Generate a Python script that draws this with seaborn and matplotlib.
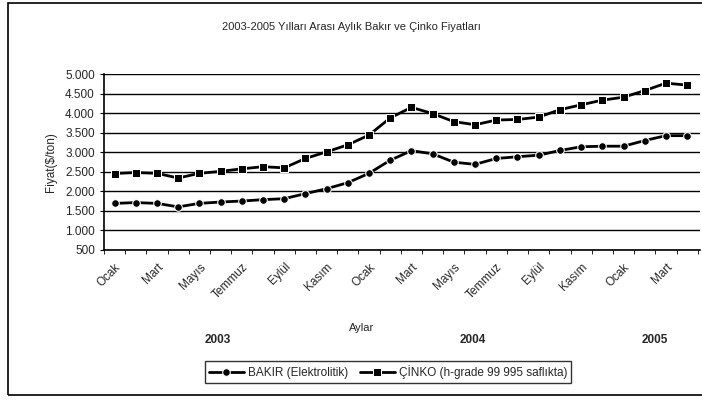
import numpy as np
import pandas as pd
import matplotlib
matplotlib.use("Agg")
import matplotlib.pyplot as plt
import seaborn as sns
from matplotlib.patches import Rectangle
from matplotlib.ticker import FuncFormatter
from matplotlib.transforms import ScaledTranslation

# Data (Jan 2003 - Apr 2005, monthly)
months = ["Ocak", "Şubat", "Mart", "Nisan", "Mayıs", "Haziran", "Temmuz",
          "Ağustos", "Eylül", "Ekim", "Kasım", "Aralık"]
month_labels = (months * 3)[:28]
bakir = [1690, 1710, 1690, 1600, 1690, 1725, 1750, 1785, 1810, 1940, 2065, 2220,
         2460, 2795, 3040, 2960, 2745, 2690, 2840, 2885, 2925, 3045, 3140, 3155,
         3155, 3300, 3425, 3425]
cinko = [2455, 2480, 2460, 2340, 2460, 2510, 2575, 2630, 2600, 2840, 3010, 3190,
         3440, 3880, 4150, 3990, 3785, 3705, 3825, 3840, 3900, 4090, 4215, 4335,
         4410, 4580, 4770, 4720]
years = ["2003", "2004", "2005"]

df = pd.DataFrame({"idx": np.arange(28), "bakir": bakir, "cinko": cinko})

sns.set_style("white")
plt.rcParams["font.family"] = ["Liberation Sans", "DejaVu Sans"]

fig = plt.figure(figsize=(7.02, 4.01), dpi=100)
ax = fig.add_axes([0.148, 0.377, 0.849, 0.438])

sns.lineplot(data=df, x="idx", y="bakir", ax=ax, color="black", marker="o",
             markersize=5.5, linewidth=2.0, label="BAKIR (Elektrolitik)")
sns.lineplot(data=df, x="idx", y="cinko", ax=ax, color="black", marker="s",
             markersize=5.5, linewidth=2.0, label="ÇİNKO (h-grade 99 995 saflıkta)")

ax.set_ylim(500, 5000)
ax.set_xlim(-0.45, 27.6)
ax.set_yticks(np.arange(500, 5001, 500))
ax.yaxis.set_major_formatter(FuncFormatter(lambda v, p: f"{int(v):,}".replace(",", ".")))
ax.yaxis.grid(True, color="black", linewidth=1.0)
ax.set_xticks(np.arange(0, 28, 2))
ax.set_xticklabels(month_labels[0:28:2], rotation=45, ha="right", fontsize=8.5,
                   rotation_mode="anchor")
# nudge rotated labels a bit right like the original
for lbl in ax.get_xticklabels():
    lbl.set_transform(lbl.get_transform() + ScaledTranslation(0.07, 0, fig.dpi_scale_trans))
ax.set_xticks(np.arange(-0.5, 28, 1), minor=True)
ax.tick_params(axis="x", which="major", length=0, pad=8)
ax.tick_params(axis="x", which="minor", length=3, direction="out", color="black")
ax.tick_params(axis="y", labelsize=8.5, length=3, direction="out", color="black")
ax.tick_params(bottom=True, left=True, which="both")
for s in ["top", "right"]:
    ax.spines[s].set_visible(False)
for s in ["left", "bottom"]:
    ax.spines[s].set_color("black")
    ax.spines[s].set_linewidth(1.2)

ax.set_xlabel("")
ax.set_ylabel("Fiyat($/ton)", fontsize=8.5, labelpad=6)

fig.text(0.5, 0.933, "2003-2005 Yılları Arası Aylık Bakır ve Çinko Fiyatları",
         ha="center", va="center", fontsize=8)
fig.text(362 / 702, 1 - 328 / 401, "Aylar", ha="center", va="center", fontsize=8)
for yr, xp in zip(years, [218, 473, 655]):
    fig.text(xp / 702, 1 - 340 / 401, yr, ha="center", va="center",
             fontsize=8.5, fontweight="bold")

ax.legend(loc="center", bbox_to_anchor=(388 / 702, 1 - 372 / 401),
          bbox_transform=fig.transFigure, ncol=2, frameon=True, fontsize=8.5,
          fancybox=False, edgecolor="black", handlelength=3, columnspacing=1.0,
          borderpad=0.3, handletextpad=0.3)

fig.patches.append(Rectangle((8 / 702, 1 - 395 / 401), 1.0, 392 / 401,
                             transform=fig.transFigure, fill=False,
                             edgecolor="black", linewidth=1.2))

fig.savefig("out.png", dpi=100)
